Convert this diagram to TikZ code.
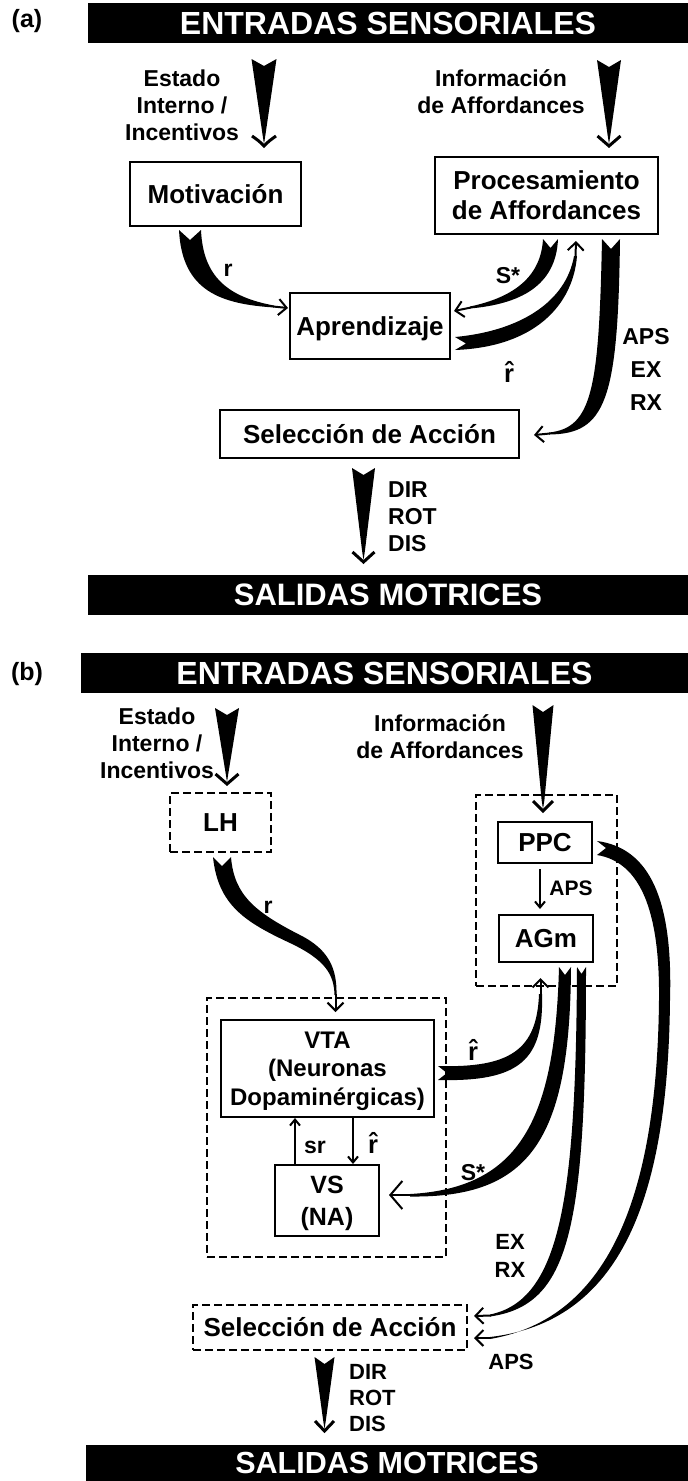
\documentclass[tikz,border=0pt]{standalone}
\usepackage{fontspec}
\setmainfont{Liberation Sans}
\usetikzlibrary{arrows.meta}
\newcommand\mywedge[4]{%
  \fill (#1-#4,#2) -- (#1,#2+7) -- (#1+#4,#2) -- (#1+1.4,#3-12) -- (#1,#3-3) -- (#1-1.4,#3-12) -- cycle;
  \draw[line width=3pt, line join=miter, miter limit=20] (#1-#4+0.5,#3-11) .. controls (#1-5,#3-6) .. (#1,#3-1) .. controls (#1+5,#3-6) .. (#1+#4-0.5,#3-11);
}
\newcommand\rhatfont{\fontsize{25.5}{27}\selectfont\bfseries}
\AtBeginDocument{{\rhatfont\fontdimen5\font=\dimexpr\fontdimen5\font-2.5pt\relax}}
\newcommand\rhat{{\rhatfont\accent"02C6 r}}
\begin{document}
\begin{tikzpicture}[x=1pt,y=-1pt,
 box/.style={draw,line width=2pt,inner sep=0pt,align=center},
 dbox/.style={draw,line width=2pt,dash pattern=on 8pt off 4pt,inner sep=0pt,align=center},
 bigtxt/.style={font=\fontsize{26}{30}\selectfont\bfseries},
 one/.style={text height=18.7pt,text depth=0pt},
 lbl/.style={font=\fontsize{23}{27}\selectfont\bfseries,align=center,inner sep=0pt},
 slbl/.style={font=\fontsize{21}{25}\selectfont\bfseries,align=center,inner sep=0pt},
 tag/.style={font=\fontsize{25}{25}\selectfont\bfseries,inner sep=0pt},
 barnode/.style={fill=black,inner sep=0pt,text=white},
 barb/.style={line width=2pt,-{Straight Barb[length=8pt,width=16pt]}},
 bigbarb/.style={line width=2pt,-{Straight Barb[length=12pt,width=28pt]}},
 sbarb/.style={line width=2pt,-{Straight Barb[length=6pt,width=10pt]}},
]
\fill[white] (0,0) rectangle (688,1481);
\useasboundingbox (0,0) rectangle (688,1481);

% ================= panel (a) =================
\node[tag] (tagA) at (27,21) {(a)};
\node[barnode,minimum width=600pt,minimum height=40pt,font=\fontsize{32}{32}\selectfont\bfseries] (inA) at (388,23) {ENTRADAS SENSORIALES};
\node[lbl] (estA) at (182,105) {Estado\\Interno /\\Incentivos};
\node[lbl,text depth=0pt] (infA) at (501,91.5) {Información\\de Affordances};
\mywedge{264}{59}{147}{12.5}
\mywedge{609}{60}{147}{12}

\node[box,bigtxt,one,minimum width=171pt,minimum height=64pt] (mot) at (215.5,194) {Motivación};
\node[box,bigtxt,text depth=0pt,minimum width=223pt,minimum height=77pt] (proc) at (546.5,195.5) {Procesamiento\\de Affordances};
\node[box,bigtxt,one,minimum width=160pt,minimum height=66pt] (apr) at (370,326) {Aprendizaje};
\node[box,bigtxt,one,minimum width=299pt,minimum height=48pt] (sel) at (369.5,434) {Selección de Acción};

% r : Motivacion -> Aprendizaje
\fill (179,230) .. controls (182,292) and (222,304) .. (274,307.5) -- (274,305.5) .. controls (228,297) and (203,277) .. (201,230) -- (190,240) -- cycle;
\draw[barb] (273,306.5) -- (288,308);
\node[lbl] (rA) at (228,270) {r};

% S* : Procesamiento -> Aprendizaje
\fill (543,239) .. controls (541,276) and (515,297) .. (470,306.5) -- (470,308.5) .. controls (520,304) and (556,286) .. (558,239) -- (550.5,248) -- cycle;
\draw[barb] (471,307.5) -- (454,311);
\node[lbl] (sA) at (508,276) {S*};

% r-hat : Aprendizaje -> Procesamiento
\fill (455,337) .. controls (520,331) and (566,302) .. (574,256) -- (577,256) .. controls (573,305) and (535,347) .. (455,350) -- (466,343.5) -- cycle;
\draw[barb] (575.5,257) -- (576,241);
\node[lbl] (rhA) at (509,372) {\rhat};

% APS EX RX : Procesamiento -> Seleccion
\fill (602,239) .. controls (599,390) and (592,428) .. (549,432.5) -- (549,434.5) .. controls (606,434) and (618,400) .. (620,239) -- (611,249) -- cycle;
\draw[barb] (550,433.5) -- (534,435);
\node[lbl,font=\fontsize{23}{33}\selectfont\bfseries] (apsA) at (646,369.5) {APS\\EX\\RX};

\mywedge{363.5}{468}{563}{11.5}
\node[lbl,anchor=west,align=left] (dirA) at (388,516.5) {DIR\\ROT\\DIS};
\node[barnode,minimum width=600pt,minimum height=40pt,font=\fontsize{31}{31}\selectfont\bfseries] (outA) at (388,595) {SALIDAS MOTRICES};

% ================= panel (b) =================
\node[tag] (tagB) at (27,674) {(b)};
\node[barnode,minimum width=607pt,minimum height=40pt,font=\fontsize{32}{32}\selectfont\bfseries] (inB) at (384.5,673) {ENTRADAS SENSORIALES};
\node[lbl] (estB) at (157,743.5) {Estado\\Interno /\\Incentivos};
\node[lbl,text depth=0pt] (infB) at (440,736.5) {Información\\de Affordances};
\mywedge{227}{708}{785}{12}
\mywedge{543}{705}{812}{10.5}

\node[dbox,bigtxt,one,minimum width=101pt,minimum height=59pt] (lh) at (220.5,822.5) {LH};
\node[dbox,minimum width=141pt,minimum height=191pt] (grpR) at (546.5,890.5) {};
\node[box,bigtxt,one,minimum width=94pt,minimum height=41pt] (ppc) at (545,842.5) {PPC};
\node[box,bigtxt,one,minimum width=94pt,minimum height=47pt] (agm) at (546,938.5) {AGm};
\path (ppc.south) ++(-5,5) coordinate (apsT);
\path (agm.north) ++(-6,-5) coordinate (apsE);
\draw[sbarb] (apsT) -- (apsE);
\node[slbl] (apsB1) at (571,888) {APS};

\node[dbox,minimum width=239pt,minimum height=259pt] (grpL) at (326.5,1127.5) {};
\node[box,font=\fontsize{24}{28.5}\selectfont\bfseries,text depth=0pt,minimum width=213pt,minimum height=97pt] (vta) at (327.5,1068.5) {VTA\\(Neuronas\\Dopaminérgicas)};
\node[box,font=\fontsize{25}{32}\selectfont\bfseries,text depth=0pt,minimum width=104pt,minimum height=71pt] (vs) at (327,1200.5) {VS\\(NA)};
\path (vs.north) ++(-32,0) coordinate (srB);
\path (vta.south) ++(-32.5,0) coordinate (srT);
\draw[sbarb] (srB) -- (srT);
\node[lbl] (srL) at (315,1147) {sr};
\path (vta.south) ++(25.5,0) coordinate (rhT);
\path (vs.north) ++(26,0) coordinate (rhB);
\draw[sbarb] (rhT) -- (rhB);
\node[lbl] (rhS) at (373,1143) {\rhat};

% r : LH -> VTA
\fill (213,857) .. controls (218,905) and (245,922) .. (290,943) .. controls (326,960) and (334,975) .. (334.5,995) -- (336.5,995) .. controls (337,970) and (330,950) .. (300,935) .. controls (255,912) and (234,895) .. (231,857) -- (222,866) -- cycle;
\draw[barb] (335.5,994) -- (335.5,1012);
\node[lbl] (rB) at (268,907) {r};

% r-hat : VTA -> AGm
\fill (438,1066) .. controls (510,1068) and (537,1050) .. (539,994) -- (542,994) .. controls (544,1060) and (520,1082) .. (438,1080) -- (447,1073) -- cycle;
\draw[barb] (540.5,995) -- (540.5,978);
\node[lbl] (rhB2) at (473,1050) {\rhat};

% S* : AGm -> VS
\fill (559,967) .. controls (555,1120) and (520,1188) .. (410,1194) -- (410,1196.5) .. controls (530,1198) and (570,1140) .. (571,967) -- (565,975) -- cycle;
\draw[bigbarb] (411,1195) -- (389,1195);
\node[lbl] (sB) at (473,1173) {S*};

% EX RX : AGm -> Seleccion
\fill (577,967) .. controls (576,1200) and (560,1300) .. (490,1314.5) -- (490,1316.5) .. controls (570,1305) and (586,1230) .. (586,967) -- (581.5,974) -- cycle;
\draw[barb] (491,1315.5) -- (474,1316);
\node[lbl,font=\fontsize{22}{28}\selectfont\bfseries] (exB) at (510,1256) {EX\\RX};

% APS : PPC -> Seleccion
\fill (597,841) .. controls (650,848) and (673,900) .. (670,1000) .. controls (668,1200) and (620,1322) .. (490,1337) -- (490,1339) .. controls (612,1318) and (657,1190) .. (659,1000) .. controls (660,910) and (640,862) .. (597,855) -- (606,848) -- cycle;
\draw[barb] (491,1338) -- (474,1338);
\node[lbl,font=\fontsize{22}{26}\selectfont\bfseries] (apsB2) at (511,1362) {APS};

\node[dbox,bigtxt,one,minimum width=274pt,minimum height=45pt] (selB) at (330,1327.5) {Selección de Acción};
\mywedge{324.5}{1357}{1432}{10}
\node[lbl,anchor=west,align=left,font=\fontsize{22}{26}\selectfont\bfseries] (dirB) at (349,1398.5) {DIR\\ROT\\DIS};
\node[barnode,minimum width=602pt,minimum height=36pt,font=\fontsize{30.5}{30.5}\selectfont\bfseries] (outB) at (387,1463) {SALIDAS MOTRICES};
\end{tikzpicture}
\end{document}
